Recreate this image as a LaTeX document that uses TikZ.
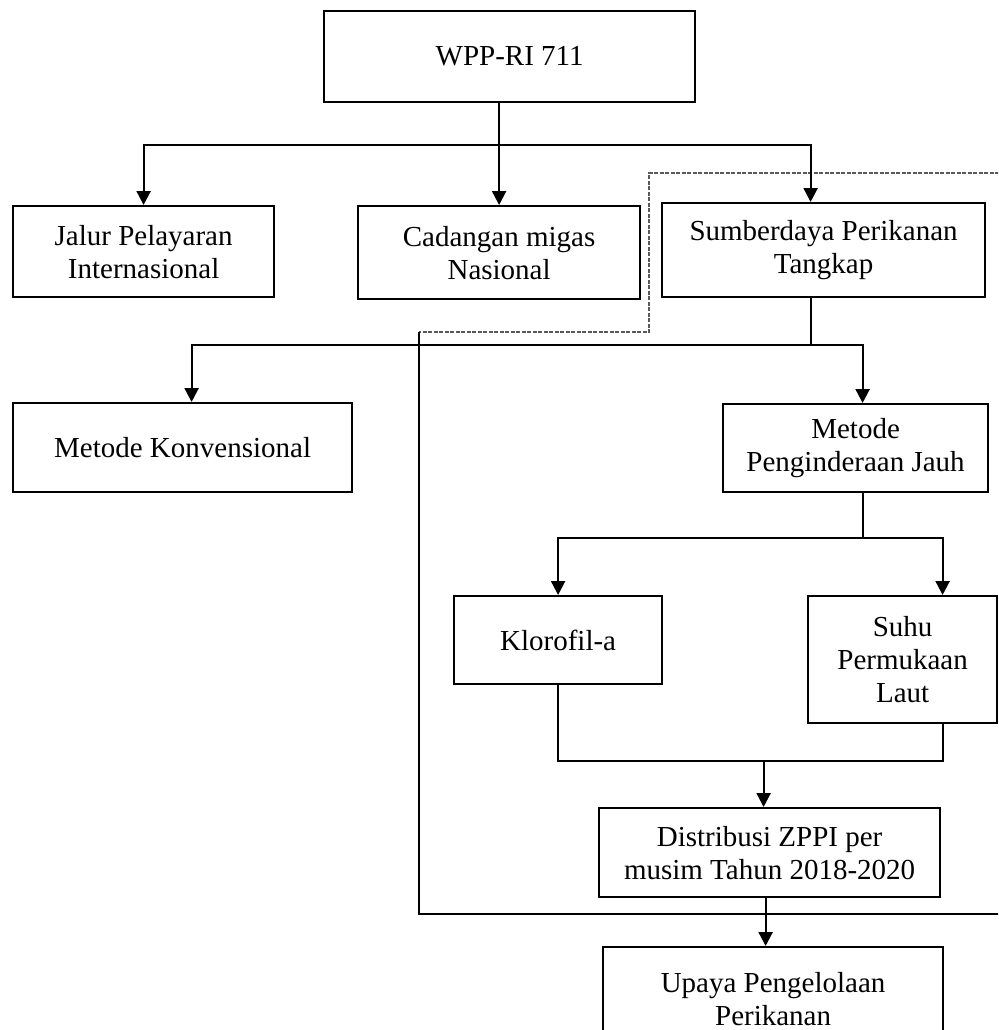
\documentclass[tikz,border=0pt]{standalone}
\usepackage{fontspec}
\setmainfont{Liberation Serif}
\usetikzlibrary{arrows.meta}

\begin{document}
\begin{tikzpicture}[x=1pt, y=-1pt,
		box/.style={draw, black, line width=2.2pt, anchor=north west, align=center, inner sep=0pt, font=\fontsize{29}{33}\selectfont},
		arr/.style={-{Triangle[width=14pt,length=14pt]}},
		line width=2.2pt]
		\useasboundingbox (0,0) rectangle (998,1030);
		\clip (0,0) rectangle (998,1030);
		\node[box, minimum width=371pt, minimum height=91pt] (wpp) at (323,10) {WPP-RI 711};
		\node[box, minimum width=261pt, minimum height=91pt] (jalur) at (12,205) {Jalur Pelayaran\\Internasional};
		\node[box, minimum width=282pt, minimum height=93pt] (cadangan) at (357,205) {Cadangan migas\\Nasional};
		\node[box, minimum width=323pt, minimum height=94pt] (sumber) at (661,202) {Sumberdaya Perikanan\\Tangkap};
		\node[box, minimum width=339pt, minimum height=89pt] (mk) at (12,402) {Metode Konvensional};
		\node[box, minimum width=265pt, minimum height=88pt] (mpj) at (722,403) {Metode\\Penginderaan Jauh};
		\node[box, minimum width=208pt, minimum height=88pt] (klorofil) at (453,595) {Klorofil-a};
		\node[box, minimum width=189pt, minimum height=127pt] (suhu) at (807,595) {Suhu\\Permukaan\\Laut};
		\node[box, minimum width=341pt, minimum height=89pt] (distribusi) at (598,807) {Distribusi ZPPI per\\musim Tahun 2018-2020};
		\node[box, minimum width=340pt, minimum height=104pt] (upaya) at (602,946) {Upaya Pengelolaan\\Perikanan};
		\draw[black!65, line width=2.6pt, dash pattern=on 4pt off 1.5pt] (1010,173) -- (649,173) -- (649,332) -- (419,332);
		\draw (419,332) -- (419,914) -- (1010,914);
		\draw (cadangan.north |- wpp.south) -- ++(0,42) coordinate (busA);
		\draw[arr] (busA) -| (jalur.north);
		\draw[arr] (busA) -- (cadangan.north);
		\draw[arr] (busA) -| ([xshift=-13pt]sumber.north);
		\draw ([xshift=-13pt]sumber.south) -- ++(0,47) coordinate (busB);
		\draw[arr] (busB) -| ([xshift=9pt]mk.north);
		\draw[arr] (busB) -| ([xshift=7pt]mpj.north);
		\draw ([xshift=7pt]mpj.south) -- ++(0,45) coordinate (busC);
		\draw[arr] (busC) -| (klorofil.north);
		\draw[arr] (busC) -| ([xshift=40pt]suhu.north);
		\draw (klorofil.south) -- ++(0,76) coordinate (joinL) -| ([xshift=40pt]suhu.south);
		\coordinate (dtop) at ([xshift=-6pt]distribusi.north);
		\coordinate (dbot) at ([xshift=-4pt]distribusi.south);
		\draw[arr] (dtop |- joinL) -- (dtop);
		\draw[arr] (dbot) -- (dbot |- upaya.north);
		\end{tikzpicture}
\end{document}
